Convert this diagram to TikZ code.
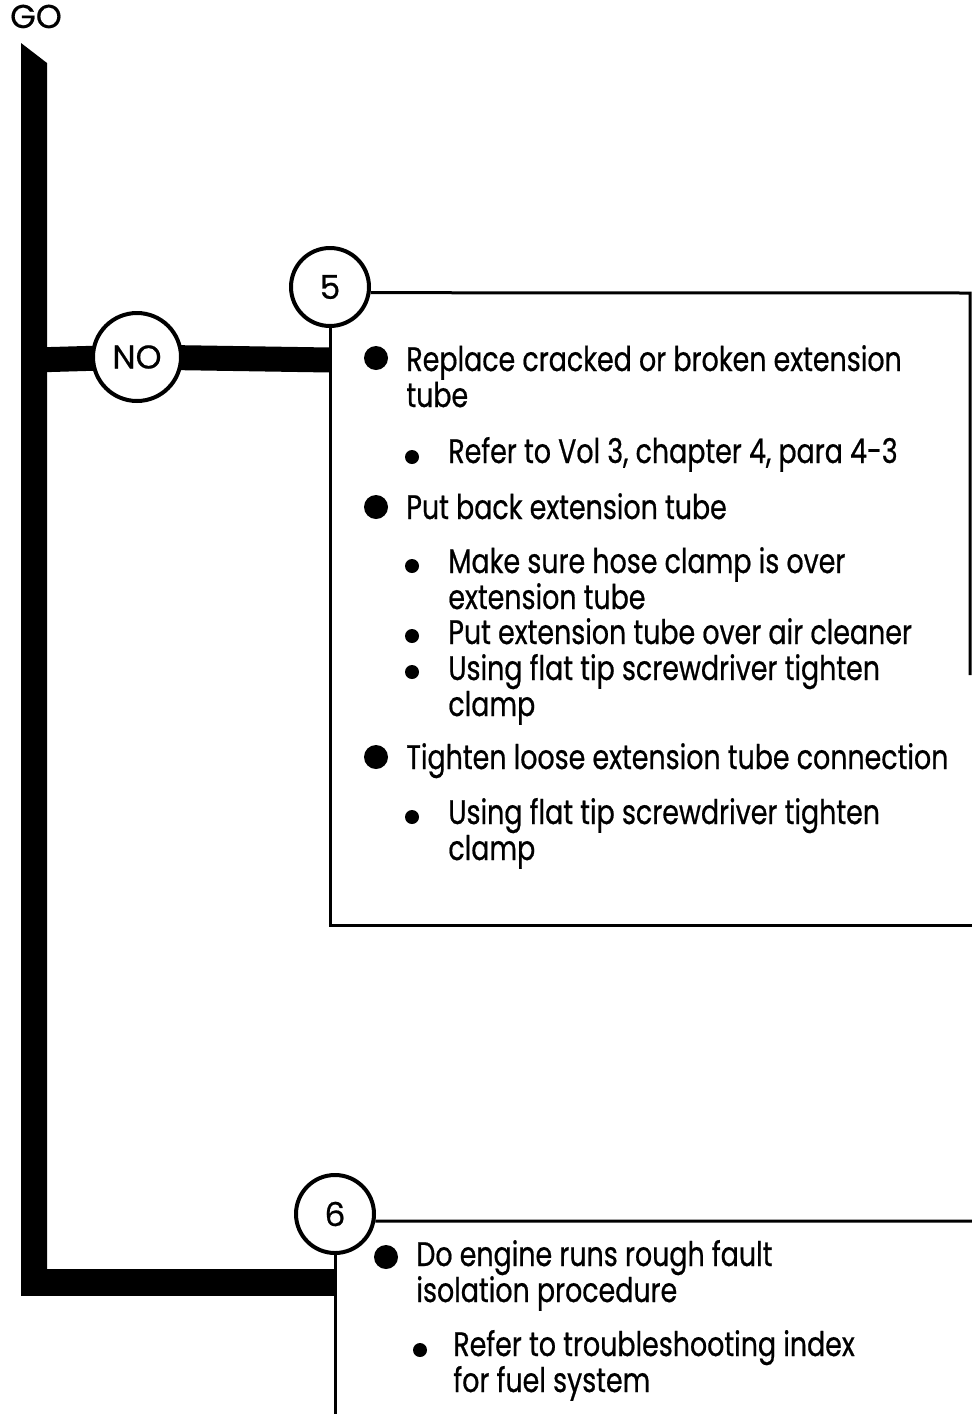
\documentclass[tikz,border=0pt]{standalone}
\usepackage{fontspec}
\setmainfont{Poppins}[FakeStretch=0.79,FakeBold=0.6]
\newfontfamily\lblfont{Poppins}[FakeBold=0.5]
\usetikzlibrary{calc,positioning,backgrounds}
\tikzset{
  trunk/.style={fill=black},
  branch/.style={line width=12.5pt},
  edge/.style={line width=1.5pt},
  tag/.style={circle,draw,line width=2pt,fill=white,inner sep=0pt,minimum size=39pt,font=\lblfont\fontsize{16.5}{16.5}\selectfont},
  item/.style={anchor=base west,inner sep=0pt,align=left,font=\fontsize{17}{18}\selectfont},
  bigdot/.style={circle,fill=black,inner sep=0pt,minimum size=12pt},
  smalldot/.style={circle,fill=black,inner sep=0pt,minimum size=7pt},
}

\begin{document}
\begin{tikzpicture}[x=0.5pt,y=-0.5pt]
\useasboundingbox (0,0) rectangle (972,1414);
\node[anchor=base,inner sep=0pt,font=\lblfont\fontsize{16.5}{16.5}\selectfont] (go) at (36,28) {GO};
% left trunk
\fill[trunk] (21,43) -- (47,63) -- (47,1295) -- (21,1295) -- cycle;
\coordinate (j1) at (34,360);
\coordinate (j2) at (21,1282);
% step 5
\node[tag,minimum size=44pt] (no) at (137,357) {NO};
\node[tag] (c5) at (330,287) {5};
\coordinate (b1l) at (330,360);
\coordinate (b1tr) at (970,293);
\coordinate (b1r) at (970,675);
\coordinate (b1bl) at (330,925);
\coordinate (b1br) at (972,925);
\begin{scope}[on background layer]
\draw[branch] (j1) -- (no.center) -- (b1l);
\end{scope}
\draw[edge] (c5.-8) -- (b1tr) -- (b1r);
\draw[edge] (c5.south) -- (b1bl) -- (b1br);
\node[bigdot] (d1) at (376,358) {};
\node[item] (r1) at (406,407) {Replace cracked or broken extension\\tube};
\node[smalldot] (d1a) at (412,457) {};
\node[item] (r1a) at (448,463) {Refer to Vol 3, chapter 4, para 4-3};
\node[bigdot] (d2) at (376,507) {};
\node[item] (r2) at (406,519) {Put back extension tube};
\node[smalldot] (d2a) at (412,566) {};
\node[item] (r2a) at (448,609) {Make sure hose clamp is over\\extension tube};
\node[smalldot] (d2b) at (412,636) {};
\node[item] (r2b) at (448,644) {Put extension tube over air cleaner};
\node[smalldot] (d2c) at (412,672) {};
\node[item] (r2c) at (448,716) {Using flat tip screwdriver tighten\\clamp};
\node[bigdot] (d3) at (376,757) {};
\node[item] (r3) at (406,769) {Tighten loose extension tube connection};
\node[smalldot] (d3a) at (412,817) {};
\node[item] (r3a) at (448,860) {Using flat tip screwdriver tighten\\clamp};
% step 6
\node[tag] (c6) at (335,1214) {6};
\coordinate (b2tr) at (972,1221);
\coordinate (b2bl) at (335,1414);
\coordinate (b2l) at (336,1282);
\draw[branch,line width=13.5pt] (j2) -- (b2l);
\draw[edge] (c6.-10) -- (b2tr);
\draw[edge] (c6.south) -- (b2bl);
\node[bigdot] (d4) at (386,1257) {};
\node[item] (s1) at (416,1302) {Do engine runs rough fault\\isolation procedure};
\node[smalldot] (d4a) at (420,1350) {};
\node[item] (s1a) at (453,1392) {Refer to troubleshooting index\\for fuel system};
\end{tikzpicture}
\end{document}
